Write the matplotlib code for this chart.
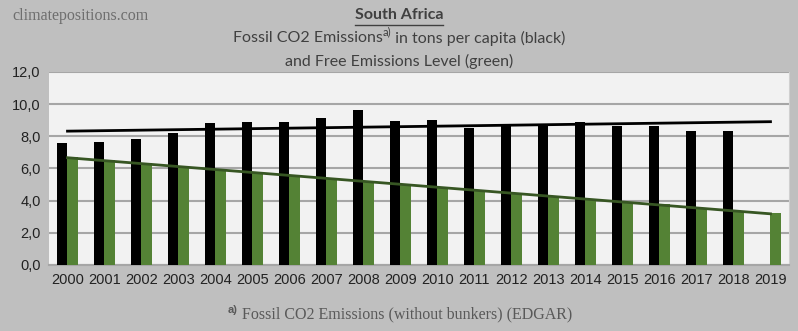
import numpy as np
import matplotlib.pyplot as plt

years = [str(y) for y in range(2000, 2020)]
# Fossil CO2 per capita (tons), no value yet for 2019
fossil = [7.56, 7.67, 7.81, 8.23, 8.81, 8.89, 8.89, 9.14, 9.66, 8.95,
          9.04, 8.54, 8.68, 8.73, 8.89, 8.64, 8.62, 8.33, 8.33]
# Free Emissions Level (tons per capita)
free_level = [6.74, 6.53, 6.32, 6.11, 5.91, 5.70, 5.53, 5.39, 5.18, 4.99,
              4.83, 4.62, 4.46, 4.29, 4.08, 3.94, 3.77, 3.56, 3.36, 3.21]
yticks = [0, 2, 4, 6, 8, 10, 12]

bg = '#bfbfbf'
green = '#548235'
dark_green = '#375623'
txt = '#404040'

fig = plt.figure(figsize=(7.98, 3.31), dpi=100, facecolor=bg)
ax = fig.add_axes([0.0614, 0.1994, 0.9273, 0.5831])
ax.set_facecolor('#f2f2f2')

x = np.arange(len(years))
w = 0.285
ax.bar(x[:len(fossil)] - w/2, fossil, width=w, color='black', zorder=3)
ax.bar(x + w/2, free_level, width=w, color=green, zorder=3)

# linear trend lines, as in the spreadsheet chart
k1 = np.polyfit(x[:len(fossil)], fossil, 1)
ax.plot(x, np.polyval(k1, x), color='black', lw=2, zorder=4)
k2 = np.polyfit(x, free_level, 1)
ax.plot(x, np.polyval(k2, x), color=dark_green, lw=2, zorder=4)

ax.set_xlim(-0.5, len(years) - 0.5)
ax.set_ylim(0, 12)
ax.set_yticks(yticks)
ax.set_yticklabels(['%d,0' % v for v in yticks], fontsize=10.5,
                   family='Liberation Sans', color='#222222')
ax.set_xticks(x)
ax.set_xticklabels(years, fontsize=10.5, family='Liberation Sans', color='#222222')
ax.tick_params(length=0, pad=6)
ax.grid(axis='y', color='#a6a6a6', lw=1.5, zorder=1)
for s in ['left', 'top']:
    ax.spines[s].set_visible(False)
ax.spines['right'].set_color('#d0d0d0')
ax.spines['bottom'].set_color('#a6a6a6')
ax.spines['bottom'].set_linewidth(1.5)

fig.text(0.016, 0.953, 'climatepositions.com', family='Liberation Serif',
         fontsize=11.5, color='#6e6e6e', va='center')
title = fig.text(0.5, 0.955, 'South Africa', fontsize=11.5, fontweight='bold',
                 family='Lato', color=txt, ha='center', va='center')

fig.canvas.draw()
r = fig.canvas.get_renderer()
# underline of the country name
bb = title.get_window_extent(r)
fig.add_artist(plt.Line2D([bb.x0 / 798, bb.x1 / 798], [0.925, 0.925],
                          color=txt, lw=1))

# second title line with a superscript note marker
parts = [('Fossil CO2 Emissions', 11.5, 0), ('a)', 8, 0.02),
         (' in tons per capita (black)', 11.5, 0)]
items = []
total = 0
for s, fs, dy in parts:
    t = fig.text(0, 0.885 + dy, s, fontsize=fs, family='Lato', color=txt, va='center')
    wpx = t.get_window_extent(r).width
    items.append((t, wpx))
    total += wpx
pos = (798 - total) / 2
for t, wpx in items:
    t.set_x(pos / 798)
    pos += wpx
fig.text(0.5, 0.813, 'and Free Emissions Level (green)', fontsize=11.5,
         family='Lato', color=txt, ha='center', va='center')

# footnote
fig.text(0.285, 0.063, 'a)', fontsize=8, fontweight='bold',
         family='Liberation Sans', color='#595959', va='center')
fig.text(0.3035, 0.05, 'Fossil CO2 Emissions (without bunkers) (EDGAR)',
         fontsize=11.5, family='Liberation Serif', color='#595959', va='center')

fig.savefig('out.png', dpi=100, facecolor=bg)
